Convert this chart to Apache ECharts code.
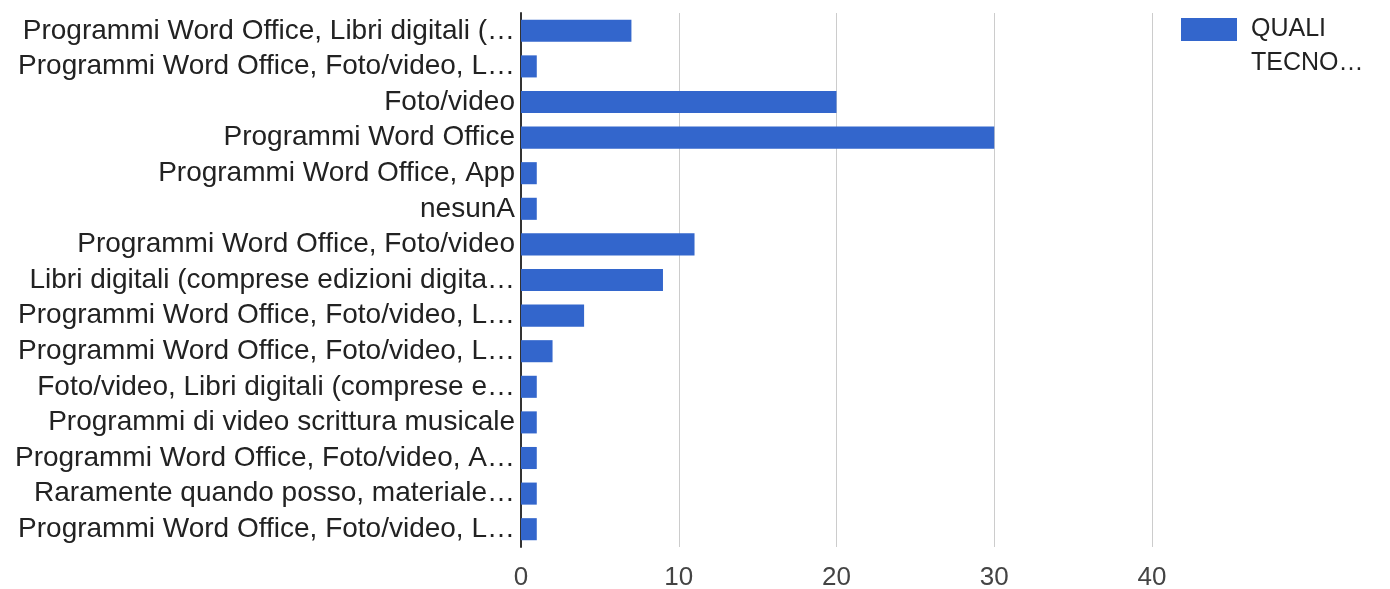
<!DOCTYPE html>
<html>
<head>
<meta charset="utf-8">
<script src="https://cdn.jsdelivr.net/npm/echarts@6/dist/echarts.min.js"></script>
<style>
  html, body { margin: 0; padding: 0; background: #fff; }
  #chart { width: 1390px; height: 589px; }
</style>
</head>
<body>
<div id="chart"></div>
<script>
// risposte (etichette già troncate come nel grafico originale)
const categories = [
  'Programmi Word Office, Libri digitali (…',
  'Programmi Word Office, Foto/video, L…',
  'Foto/video',
  'Programmi Word Office',
  'Programmi Word Office, App',
  'nesunA',
  'Programmi Word Office, Foto/video',
  'Libri digitali (comprese edizioni digita…',
  'Programmi Word Office, Foto/video, L…',
  'Programmi Word Office, Foto/video, L…',
  'Foto/video, Libri digitali (comprese e…',
  'Programmi di video scrittura musicale',
  'Programmi Word Office, Foto/video, A…',
  'Raramente quando posso, materiale…',
  'Programmi Word Office, Foto/video, L…'
]
const counts = [7, 1, 20, 30, 1, 1, 11, 9, 4, 2, 1, 1, 1, 1, 1]
const xTicks = [0, 10, 20, 30, 40]

const seriesName = 'QUALI TECNO…'
const font = 'Liberation Sans, Arial, sans-serif'

const chart = echarts.init(document.getElementById('chart'))

const option = {
  animation: false,
  textStyle: { fontFamily: font },
  grid: { left: 521, right: 238, top: 13, bottom: 42, outerBoundsMode: 'none' },
  legend: {
    left: 1181,
    top: 17,
    padding: 0,
    itemWidth: 56,
    itemHeight: 23,
    icon: 'rect',
    data: [seriesName],
    formatter: () => 'QUALI',
    textStyle: { fontSize: 25, color: '#222', padding: [0, 0, 0, 9] }
  },
  // seconda riga del nome della serie (troncata come nell'originale)
  graphic: [{
    type: 'text',
    left: 1251,
    top: 51,
    style: { text: 'TECNO…', fontSize: 25, fill: '#222', fontFamily: font }
  }],
  xAxis: {
    type: 'value',
    min: xTicks[0],
    max: xTicks[xTicks.length - 1],
    interval: 10,
    axisLine: { show: false },
    axisTick: { show: false },
    splitLine: { lineStyle: { color: '#cccccc', width: 1 } },
    axisLabel: { fontSize: 26, color: '#444', margin: 18 }
  },
  yAxis: {
    type: 'category',
    inverse: true,
    data: categories,
    axisLine: { show: true, lineStyle: { color: '#333', width: 2 } },
    axisTick: { show: false },
    axisLabel: { interval: 0, fontSize: 28, color: '#222', margin: 6 }
  },
  series: [{
    name: seriesName,
    type: 'bar',
    data: counts,
    barCategoryGap: '38%',
    itemStyle: { color: '#3366cc' }
  }]
}

chart.setOption(option)
</script>
</body>
</html>
